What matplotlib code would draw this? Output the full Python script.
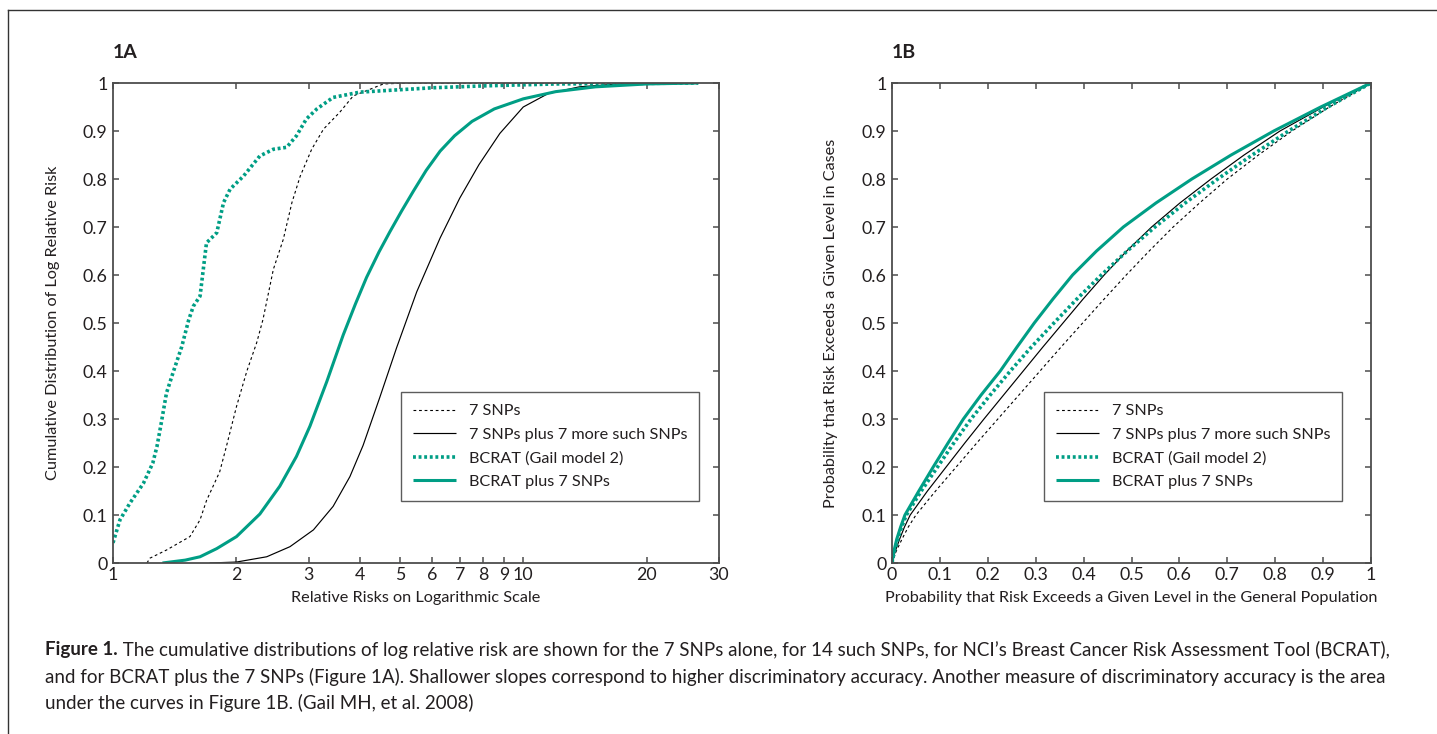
import matplotlib
matplotlib.use("Agg")
import matplotlib.pyplot as plt
from matplotlib.lines import Line2D
from matplotlib.ticker import FixedLocator, FixedFormatter, NullLocator

plt.rcParams['font.family'] = ['Lato', 'DejaVu Sans']

# ---------------- Data: Panel 1A (relative risk vs cumulative distribution)
snp7_rr = [1.21, 1.23, 1.35, 1.54, 1.63, 1.69, 1.82, 1.89, 2.0, 2.12, 2.24, 2.32, 2.46, 2.60,
           2.73, 2.86, 3.05, 3.26, 3.57, 3.85, 4.56, 5.2, 26.7]
snp7_cdf = [0.0, 0.01, 0.027, 0.055, 0.09, 0.13, 0.19, 0.243, 0.326, 0.40, 0.459, 0.507, 0.612,
            0.674, 0.751, 0.806, 0.862, 0.904, 0.939, 0.973, 0.998, 1.0, 1.0]

snp14_rr = [1.72, 2.0, 2.37, 2.70, 3.08, 3.44, 3.78, 4.07, 4.47, 4.91, 5.50, 6.27, 7.0, 7.8,
            8.77, 10.0, 11.5, 13.7, 17.0, 26.7]
snp14_cdf = [0.0, 0.002, 0.013, 0.034, 0.069, 0.118, 0.18, 0.245, 0.345, 0.448, 0.565, 0.677,
             0.76, 0.83, 0.895, 0.95, 0.978, 0.992, 0.998, 1.0]

bcrat_rr = [1.0, 1.04, 1.10, 1.186, 1.25, 1.28, 1.31, 1.35, 1.40, 1.47, 1.53, 1.57, 1.63, 1.69,
            1.79, 1.86, 1.93, 2.08, 2.28, 2.46, 2.65, 2.80, 2.96, 3.14, 3.44, 4.0, 5.0, 6.0, 8.0,
            12.0, 26.7]
bcrat_cdf = [0.042, 0.09, 0.125, 0.166, 0.208, 0.243, 0.29, 0.354, 0.396, 0.45, 0.507, 0.535,
             0.556, 0.667, 0.688, 0.751, 0.779, 0.806, 0.848, 0.862, 0.866, 0.890, 0.925, 0.946,
             0.970, 0.981, 0.986, 0.990, 0.994, 0.998, 1.0]

bcrat7_rr = [1.32, 1.5, 1.63, 1.79, 2.0, 2.28, 2.55, 2.80, 3.02, 3.32, 3.64, 3.9, 4.15, 4.45,
             4.73, 5.05, 5.40, 5.8, 6.27, 6.8, 7.5, 8.5, 10.0, 12.0, 15.0, 20.0, 26.7]
bcrat7_cdf = [0.0, 0.006, 0.013, 0.03, 0.055, 0.102, 0.160, 0.222, 0.285, 0.378, 0.475, 0.54,
              0.595, 0.648, 0.69, 0.733, 0.775, 0.818, 0.858, 0.89, 0.92, 0.946, 0.967, 0.982,
              0.992, 0.998, 1.0]

# ---------------- Data: Panel 1B (probability in population vs in cases)
cases_p = [0.0, 0.025, 0.05, 0.075, 0.1, 0.15, 0.2, 0.25, 0.3, 0.35, 0.4, 0.45, 0.5, 0.55,
           0.6, 0.65, 0.7, 0.75, 0.8, 0.85, 0.9, 0.95, 1.0]
pop_snp7 = [0.0, 0.009, 0.021, 0.034, 0.050, 0.091, 0.134, 0.177, 0.221, 0.265, 0.309, 0.353,
            0.398, 0.443, 0.489, 0.537, 0.587, 0.642, 0.700, 0.765, 0.835, 0.913, 1.0]
pop_snp14 = [0.0, 0.007, 0.016, 0.026, 0.038, 0.074, 0.113, 0.152, 0.192, 0.233, 0.274, 0.315,
             0.357, 0.399, 0.443, 0.490, 0.542, 0.601, 0.666, 0.735, 0.810, 0.900, 1.0]
pop_bcrat = [0.0, 0.005, 0.012, 0.020, 0.030, 0.061, 0.095, 0.129, 0.165, 0.205, 0.247, 0.291,
             0.338, 0.386, 0.437, 0.491, 0.549, 0.612, 0.680, 0.752, 0.828, 0.910, 1.0]
pop_bcrat7 = [0.0, 0.004, 0.010, 0.018, 0.027, 0.056, 0.086, 0.117, 0.149, 0.186, 0.226, 0.261,
              0.297, 0.336, 0.377, 0.427, 0.483, 0.551, 0.626, 0.708, 0.797, 0.895, 1.0]

legend_labels = ["7 SNPs", "7 SNPs plus 7 more such SNPs", "BCRAT (Gail model 2)",
                 "BCRAT plus 7 SNPs"]

x1_ticks = [1, 2, 3, 4, 5, 6, 7, 8, 9, 10, 20, 30]
x1_ticklabels = ["1", "2", "3", "4", "5", "6", "7", "8", "9", "10", "20", "30"]
unit_ticks = [0, 0.1, 0.2, 0.3, 0.4, 0.5, 0.6, 0.7, 0.8, 0.9, 1]
unit_ticklabels = ["0", "0.1", "0.2", "0.3", "0.4", "0.5", "0.6", "0.7", "0.8", "0.9", "1"]

# ---------------- Styles
TEAL = "#009e85"
SPINE = "#4d4d4d"
TXT = "#231f20"
styles = [
    dict(color="black", lw=0.8, ls=(0, (2.5, 2.5))),
    dict(color="black", lw=0.85, ls="-"),
    dict(color=TEAL, lw=2.6, ls=(0, (0.8, 0.75))),
    dict(color=TEAL, lw=2.2, ls="-"),
]

W, H = 1437, 734
fig = plt.figure(figsize=(W / 100, H / 100), dpi=100)


def fx(px):
    return px / W


def fy(py):
    return 1 - py / H


ax1 = fig.add_axes([fx(113), fy(563), fx(606), 480 / H])
ax2 = fig.add_axes([fx(892), fy(563), fx(479), 480 / H])

series1 = [(snp7_rr, snp7_cdf), (snp14_rr, snp14_cdf), (bcrat_rr, bcrat_cdf),
           (bcrat7_rr, bcrat7_cdf)]
for (xs, ys), st, lab in zip(series1, styles, legend_labels):
    ax1.plot(xs, ys, color=st["color"], lw=st["lw"], linestyle=st["ls"], label=lab,
             solid_capstyle="butt", dash_capstyle="butt", solid_joinstyle="round")

series2 = [pop_snp7, pop_snp14, pop_bcrat, pop_bcrat7]
for xs, st, lab in zip(series2, styles, legend_labels):
    ax2.plot(xs, cases_p, color=st["color"], lw=st["lw"], linestyle=st["ls"], label=lab,
             solid_capstyle="butt", dash_capstyle="butt", solid_joinstyle="round")

ax1.set_xscale("log")
ax1.set_xlim(1, 30)
ax1.set_ylim(0, 1)
ax1.xaxis.set_major_locator(FixedLocator(x1_ticks))
ax1.xaxis.set_major_formatter(FixedFormatter(x1_ticklabels))
ax1.xaxis.set_minor_locator(NullLocator())

ax2.set_xlim(0, 1)
ax2.set_ylim(0, 1)
ax2.xaxis.set_major_locator(FixedLocator(unit_ticks))
ax2.xaxis.set_major_formatter(FixedFormatter(unit_ticklabels))

for ax in (ax1, ax2):
    ax.yaxis.set_major_locator(FixedLocator(unit_ticks))
    ax.yaxis.set_major_formatter(FixedFormatter(unit_ticklabels))
    ax.yaxis.set_minor_locator(NullLocator())
    ax.tick_params(which="major", direction="in", top=True, right=True, length=4.5,
                   width=1.1, color=SPINE, labelsize=12.8, labelcolor=TXT)
    ax.tick_params(axis="x", pad=3)
    ax.tick_params(axis="y", pad=4)
    for sp in ax.spines.values():
        sp.set_color(SPINE)
        sp.set_linewidth(1.3)
    leg = ax.legend(loc="upper left", frameon=True, fancybox=False, fontsize=11.7,
                    handlelength=2.7, handletextpad=0.75, labelspacing=0.57,
                    borderpad=0.72, borderaxespad=0)
    leg.get_frame().set_edgecolor("#333333")
    leg.get_frame().set_linewidth(1.0)
    for t in leg.get_texts():
        t.set_color(TXT)

ax1.get_legend().set_bbox_to_anchor((0.475, 0.356), transform=ax1.transAxes)
ax2.get_legend().set_bbox_to_anchor((0.317, 0.356), transform=ax2.transAxes)

lab_size = 11.7
ax1.set_xlabel("Relative Risks on Logarithmic Scale", fontsize=lab_size, color=TXT)
ax1.set_ylabel("Cumulative Distribution of Log Relative Risk", fontsize=lab_size, color=TXT)
ax2.set_xlabel("Probability that Risk Exceeds a Given Level in the General Population",
               fontsize=lab_size, color=TXT)
ax2.set_ylabel("Probability that Risk Exceeds a Given Level in Cases", fontsize=lab_size,
               color=TXT)
ax1.xaxis.set_label_coords(0.5, (563 - 591) / 480)
ax2.xaxis.set_label_coords(0.5, (563 - 591) / 480)
ax1.yaxis.set_label_coords((60 - 113) / 606, 0.5)
ax2.yaxis.set_label_coords((838 - 892) / 479, 0.5)

fig.text(fx(113), fy(52), "1A", fontsize=14, fontweight="bold", color=TXT,
         ha="left", va="center")
fig.text(fx(892), fy(52), "1B", fontsize=14, fontweight="bold", color=TXT,
         ha="left", va="center")

# Frame around the figure (left and top edges visible)
fig.add_artist(Line2D([fx(8), fx(8)], [fy(10), 0], transform=fig.transFigure,
                      color="#333333", lw=1.0))
fig.add_artist(Line2D([fx(8), 1], [fy(10), fy(10)], transform=fig.transFigure,
                      color="#333333", lw=1.0))

# Caption
cap_size = 13.5
line1_rest = (" The cumulative distributions of log relative risk are shown for the 7 SNPs alone, "
              "for 14 such SNPs, for NCI\u2019s Breast Cancer Risk Assessment Tool (BCRAT),")
line2 = ("and for BCRAT plus the 7 SNPs (Figure 1A). Shallower slopes correspond to higher "
         "discriminatory accuracy. Another measure of discriminatory accuracy is the area")
line3 = "under the curves in Figure 1B. (Gail MH, et al. 2008)"

tb = fig.text(fx(45), fy(650), "Figure 1.", fontsize=cap_size, fontweight="bold", color=TXT,
              ha="left", va="center")
fig.canvas.draw()
bb = tb.get_window_extent()
fig.text(bb.x1 / W, fy(650), line1_rest, fontsize=cap_size, color=TXT, ha="left", va="center")
fig.text(fx(45), fy(677), line2, fontsize=cap_size, color=TXT, ha="left", va="center")
fig.text(fx(45), fy(703), line3, fontsize=cap_size, color=TXT, ha="left", va="center")

fig.savefig("out.png", dpi=100)
